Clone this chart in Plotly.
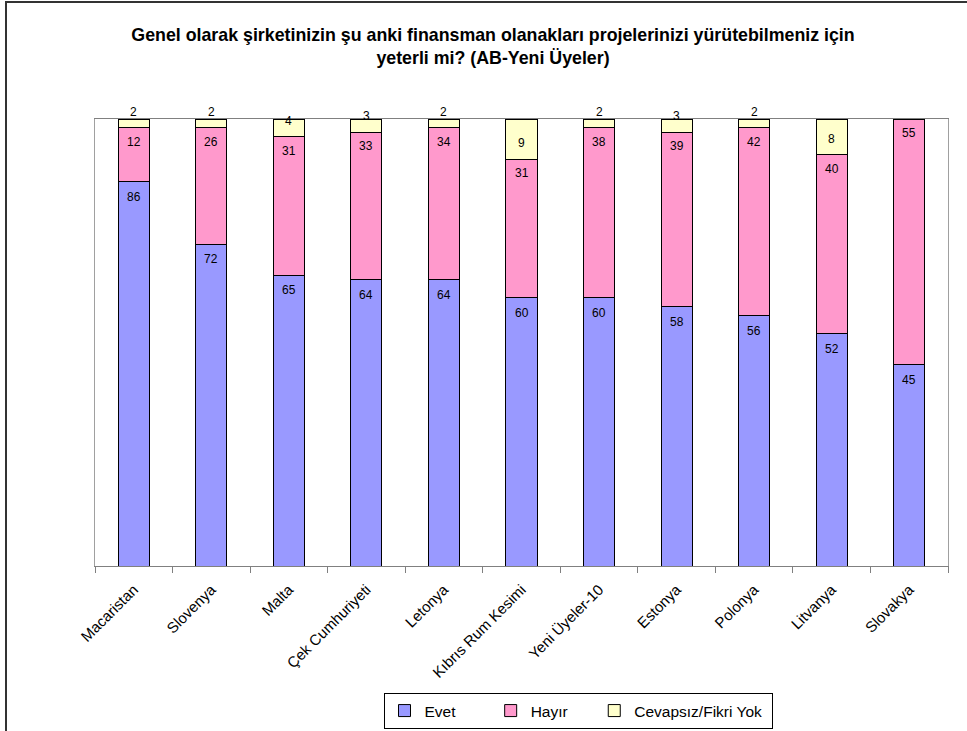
import plotly.graph_objects as go

categories = ["Macaristan", "Slovenya", "Malta", "Çek Cumhuriyeti", "Letonya",
              "Kıbrıs Rum Kesimi", "Yeni Üyeler-10", "Estonya", "Polonya",
              "Litvanya", "Slovakya"]
evet = [86, 72, 65, 64, 64, 60, 60, 58, 56, 52, 45]
hayir = [12, 26, 31, 33, 34, 31, 38, 39, 42, 40, 55]
cevapsiz = [2, 2, 4, 3, 2, 9, 2, 3, 2, 8, 0]

series_names = ["Evet", "Hayır", "Cevapsız/Fikri Yok"]
colors = ["#9999FF", "#FF99CC", "#FFFFCC"]
legend_pad = [7, 5, 1]  # trailing non-breaking spaces for legend spacing

FONT = "Liberation Sans, Arial, sans-serif"

W, H = 967, 731
L, R, T, B = 95, 19, 119, 165

fig = go.Figure()
for name, vals, col, pad in zip(series_names, [evet, hayir, cevapsiz], colors, legend_pad):
    fig.add_trace(go.Bar(
        x=categories, y=vals, name=name + "\u00a0" * pad,
        marker=dict(color=col, line=dict(color="#000000", width=1)),
        hoverinfo="skip",
    ))

annotations = []
for i, c in enumerate(categories):
    e, h, n = evet[i], hayir[i], cevapsiz[i]
    annotations.append(dict(x=c, y=e, text=str(e), showarrow=False,
                            yshift=-15, yanchor="middle", xref="x", yref="y",
                            font=dict(family=FONT, size=12, color="#000")))
    annotations.append(dict(x=c, y=e + h, text=str(h), showarrow=False,
                            yshift=-14, yanchor="middle", xref="x", yref="y",
                            font=dict(family=FONT, size=12, color="#000")))
    if n > 0:
        annotations.append(dict(x=c, y=e + h, text=str(n), showarrow=False,
                                yshift=16, yanchor="middle", xref="x", yref="y",
                                font=dict(family=FONT, size=12, color="#000")))

pw = W - L - R
ph = H - T - B

def px_x(x):
    return (x - L) / pw

def px_y(y):
    return (H - B - y) / ph

shapes = [dict(type="rect", xref="paper", yref="paper",
               x0=px_x(6), x1=px_x(990), y0=px_y(2), y1=px_y(760),
               line=dict(color="#333333", width=2), fillcolor="rgba(0,0,0,0)",
               layer="below")]

fig.update_layout(
    width=W, height=H,
    margin=dict(l=L, r=R, t=T, b=B, autoexpand=False),
    paper_bgcolor="white", plot_bgcolor="white",
    barmode="stack", bargap=0.6,
    font=dict(family=FONT, size=12, color="#000"),
    title=dict(
        text="<b>Genel olarak şirketinizin şu anki finansman olanakları projelerinizi yürütebilmeniz için<br>yeterli mi? (AB-Yeni Üyeler)</b>",
        x=493 / W, xref="container", xanchor="center",
        y=1 - 41 / H, yref="container", yanchor="top",
        font=dict(family=FONT, size=17.8, color="#000"),
    ),
    xaxis=dict(
        type="category", tickangle=-45,
        tickfont=dict(family=FONT, size=15),
        ticks="outside", tickson="boundaries", ticklen=6,
        ticklabelstandoff=8,
        tickcolor="#808080", showline=True, linecolor="#808080", linewidth=1,
        mirror=True, showgrid=False,
    ),
    yaxis=dict(
        range=[0, 100], showticklabels=False, showgrid=False, zeroline=False,
        showline=True, linecolor="#A0A0A0", linewidth=1, mirror=True, ticks="",
    ),
    legend=dict(
        orientation="h", x=578 / W, xref="container", xanchor="center",
        y=1 - 729 / H, yref="container", yanchor="bottom",
        bordercolor="#000", borderwidth=1,
        font=dict(family=FONT, size=15.5, color="#000"),
        traceorder="normal", itemclick=False,
    ),
    annotations=annotations,
    shapes=shapes,
    showlegend=True,
)

fig.write_html("out.html")
